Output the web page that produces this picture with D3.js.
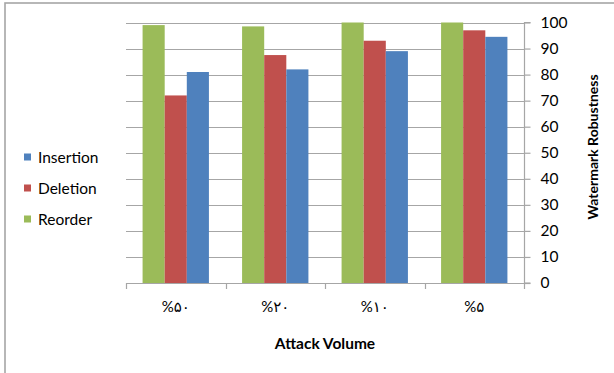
<!DOCTYPE html>
<html>
<head>
<meta charset="utf-8">
<script src="https://cdn.jsdelivr.net/npm/d3@7"></script>
<style>
  html, body { margin: 0; padding: 0; background: #fff; }
  svg { display: block; }
  text { font-family: Lato, "Open Sans", "DejaVu Sans", sans-serif; fill: #000; }
</style>
</head>
<body>
<svg id="chart" width="614" height="373"></svg>
<script>
// Attack volume categories (Persian digits) and robustness per attack type
const categories = ["%۵۰", "%۲۰", "%۱۰", "%۵"];
const reorder   = [99, 98.5, 100, 100];
const deletion  = [72, 87.5, 93, 97];
const insertion = [81, 82, 89, 94.5];
const yTicks = [0, 10, 20, 30, 40, 50, 60, 70, 80, 90, 100];

const seriesNames  = ["Reorder", "Deletion", "Insertion"];
const seriesValues = [reorder, deletion, insertion];
const colors = { Reorder: "#9bbb59", Deletion: "#c0504d", Insertion: "#4f81bd" };

const svg = d3.select("#chart");

// outer chart frame
svg.append("rect")
  .attr("x", 5).attr("y", 3)
  .attr("width", 620).attr("height", 380)
  .attr("fill", "none").attr("stroke", "#a6a6a6").attr("stroke-width", 1.6);

const plot = { left: 126, right: 524, top: 22.5, bottom: 283 };

const x = d3.scaleBand().domain(categories).range([plot.left, plot.right]).paddingInner(0).paddingOuter(0);
const y = d3.scaleLinear().domain([0, 100]).range([plot.bottom, plot.top]);
const barW = x.bandwidth() / 4.5;  // 150% gap between groups
const xs = d3.scaleBand().domain(seriesNames)
  .range([0, barW * 3]);

// horizontal gridlines
svg.append("g").selectAll("line").data(yTicks.filter(d => d > 0)).join("line")
  .attr("x1", plot.left).attr("x2", plot.right)
  .attr("y1", d => Math.round(y(d)) + 0.5).attr("y2", d => Math.round(y(d)) + 0.5)
  .attr("stroke", "#a6a6a6").attr("stroke-width", 1.2);

// bars
const rows = categories.map((c, i) => ({ c, vals: seriesNames.map((s, j) => ({ s, v: seriesValues[j][i] })) }));
svg.append("g").selectAll("g").data(rows).join("g")
  .attr("transform", d => `translate(${x(d.c) + (x.bandwidth() - barW * 3) / 2},0)`)
  .selectAll("rect").data(d => d.vals).join("rect")
  .attr("x", d => xs(d.s)).attr("width", xs.bandwidth())
  .attr("y", d => y(d.v)).attr("height", d => y(0) - y(d.v))
  .attr("fill", d => colors[d.s]);

// x axis (category boundaries as ticks)
const xAxisG = svg.append("g");
xAxisG.append("line")
  .attr("x1", plot.left).attr("x2", plot.right)
  .attr("y1", plot.bottom + 0.5).attr("y2", plot.bottom + 0.5)
  .attr("stroke", "#a6a6a6").attr("stroke-width", 1.2);
const bounds = categories.map(c => x(c)).concat([plot.right]);
xAxisG.selectAll("line.tick").data(bounds).join("line").attr("class", "tick")
  .attr("x1", d => Math.round(d) + 0.5).attr("x2", d => Math.round(d) + 0.5)
  .attr("y1", plot.bottom).attr("y2", plot.bottom + 6)
  .attr("stroke", "#a6a6a6").attr("stroke-width", 1.2);
xAxisG.selectAll("text").data(categories).join("text")
  .attr("x", d => x(d) + x.bandwidth() / 2).attr("y", 312)
  .attr("text-anchor", "middle").attr("font-size", 15)
  .attr("font-family", "'DejaVu Sans', sans-serif")
  .text(d => d);

// right y axis
const yAxis = d3.axisRight(y).tickValues(yTicks).tickSize(6).tickPadding(10);
const yAxisG = svg.append("g").attr("transform", `translate(${plot.right + 0.5},0)`).call(yAxis);
yAxisG.select(".domain").attr("stroke", "#a6a6a6").attr("stroke-width", 1.2)
  .attr("d", `M6,${plot.bottom}H0V${plot.top}H6`);
yAxisG.selectAll(".tick line").attr("stroke", "#a6a6a6").attr("stroke-width", 1.2);
yAxisG.selectAll(".tick text").attr("font-size", 15.5).attr("font-family", "Lato, 'Open Sans', sans-serif").attr("fill", "#000");

// axis titles
svg.append("text")
  .attr("transform", "translate(598,147) rotate(-90)")
  .attr("text-anchor", "middle").attr("font-size", 14).attr("font-weight", "bold")
  .text("Watermark Robustness");
svg.append("text")
  .attr("x", 325).attr("y", 349)
  .attr("text-anchor", "middle").attr("font-size", 15.5).attr("font-weight", "bold")
  .text("Attack Volume");

// legend
const legendItems = ["Insertion", "Deletion", "Reorder"];
const lg = svg.append("g").selectAll("g").data(legendItems).join("g")
  .attr("transform", (d, i) => `translate(24,${157 + i * 31})`);
lg.append("rect").attr("x", 0).attr("y", -3.5).attr("width", 7).attr("height", 7)
  .attr("fill", d => colors[d]);
lg.append("text").attr("x", 14).attr("y", 5.5).attr("font-size", 15.5).text(d => d);
</script>
</body>
</html>
